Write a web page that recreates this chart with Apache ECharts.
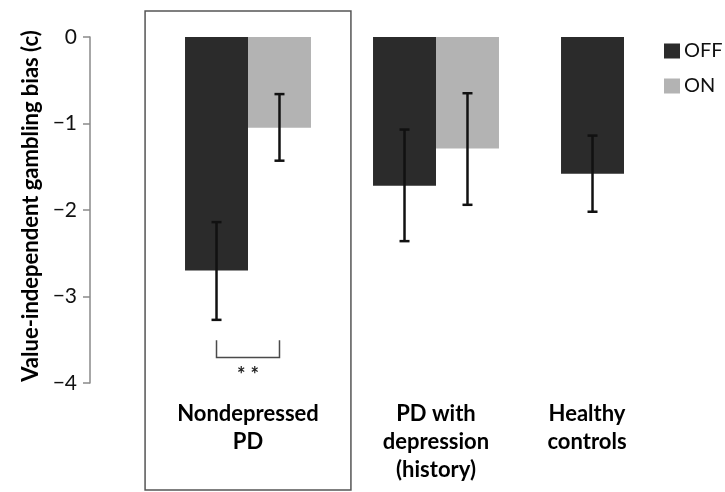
<!DOCTYPE html>
<html>
<head>
<meta charset="utf-8">
<script src="https://cdn.jsdelivr.net/npm/echarts@6/dist/echarts.min.js"></script>
<style>
html,body{margin:0;padding:0;background:#fff;}
#chart{width:725px;height:492px;}
</style>
</head>
<body>
<div id="chart"></div>
<script>
var categories = ['Nondepressed\nPD', 'PD with\ndepression\n(history)', 'Healthy\ncontrols'];
var seriesNames = ['OFF', 'ON'];
var offValues = [-2.70, -1.72, -1.58];
var onValues = [-1.05, -1.29, null];
var offErrLow = [-3.27, -2.36, -2.02];
var offErrHigh = [-2.14, -1.07, -1.14];
var onErrLow = [-1.43, -1.94, null];
var onErrHigh = [-0.66, -0.65, null];
var yTicks = [0, -1, -2, -3, -4];
var bracket = { category: 0, top: -3.505, bottom: -3.705, text: '* *', textAt: -3.88 };

var FONT = 'Lato';
var GAP = 0.33;

var errData = [];
for (var i = 0; i < categories.length; i++) {
  if (offErrLow[i] != null) errData.push([i, offErrLow[i], offErrHigh[i], 0]);
  if (onErrLow[i] != null) errData.push([i, onErrLow[i], onErrHigh[i], 1]);
}

function barOffset(api, s) {
  var band = api.size([1, 0])[0];
  var bw = band * (1 - GAP) / 2;
  return (s === 0 ? -1 : 1) * bw / 2;
}

var chart = echarts.init(document.getElementById('chart'), null, { renderer: 'canvas' });
chart.setOption({
  animation: false,
  backgroundColor: '#ffffff',
  grid: { left: 154, right: 7, top: 37, bottom: 109, containLabel: false },
  legend: {
    orient: 'vertical', left: 664, top: 41, padding: 0,
    itemWidth: 16, itemHeight: 15, itemGap: 15,
    icon: 'rect',
    data: seriesNames,
    textStyle: { fontFamily: FONT, fontSize: 20, color: '#111', padding: [0, 0, 0, -1] }
  },
  xAxis: {
    type: 'category',
    data: categories,
    axisLine: { show: false },
    axisTick: { show: false },
    axisLabel: {
      interval: 0,
      margin: 17,
      fontFamily: FONT, fontSize: 22, fontWeight: 'bold', color: '#000', lineHeight: 28,
      formatter: function (v, idx) {
        var style = idx === 2 ? 's' : 'n';
        return v.split('\n').map(function (t) { return '{' + style + '|' + t + '}'; }).join('\n');
      },
      rich: {
        n: { fontFamily: FONT, fontSize: 22, fontWeight: 'bold', color: '#000', lineHeight: 28 },
        s: { fontFamily: FONT, fontSize: 22, fontWeight: 'bold', color: '#000', lineHeight: 28, padding: [0, 74, 0, 0] }
      }
    },
    splitLine: { show: false }
  },
  yAxis: {
    type: 'value', min: -4, max: 0, interval: 1,
    offset: 64,
    name: 'Value-independent gambling bias (c)',
    nameLocation: 'middle', nameRotate: 90, nameGap: 42,
    nameTextStyle: { fontFamily: FONT, fontSize: 22, fontWeight: 'bold', color: '#000', padding: [0, 0, 0, 8] },
    axisLine: { show: true, lineStyle: { color: '#8a8a8a', width: 1.5 } },
    axisTick: { show: true, inside: false, length: 7, lineStyle: { color: '#8a8a8a', width: 1.5 } },
    axisLabel: {
      margin: 13, fontFamily: FONT, fontSize: 21, color: '#111',
      formatter: function (v) { return String(v).replace('-', '\u2212'); }
    },
    splitLine: { show: false }
  },
  series: [
    {
      name: 'OFF', type: 'bar', data: offValues, barGap: '0%', barCategoryGap: '33%',
      itemStyle: { color: '#2b2b2b' }
    },
    {
      name: 'ON', type: 'bar', data: onValues, barGap: '0%', barCategoryGap: '33%',
      itemStyle: { color: '#b3b3b3' }
    },
    {
      type: 'custom', name: 'errors', data: errData, z: 10, silent: true,
      encode: { x: 0, y: [1, 2] },
      renderItem: function (params, api) {
        var c = api.value(0), s = api.value(3);
        var off = barOffset(api, s);
        var lo = api.coord([c, api.value(1)]);
        var hi = api.coord([c, api.value(2)]);
        var x = lo[0] + off;
        var cap = 5;
        var st = { stroke: '#111', lineWidth: 2.5 };
        return {
          type: 'group',
          children: [
            { type: 'line', shape: { x1: x, y1: lo[1], x2: x, y2: hi[1] }, style: st },
            { type: 'line', shape: { x1: x - cap, y1: lo[1], x2: x + cap, y2: lo[1] }, style: st },
            { type: 'line', shape: { x1: x - cap, y1: hi[1], x2: x + cap, y2: hi[1] }, style: st }
          ]
        };
      }
    },
    {
      type: 'custom', name: 'annot', data: [[bracket.category, bracket.top, bracket.bottom, bracket.textAt]],
      z: 10, silent: true, clip: false,
      renderItem: function (params, api) {
        var c = api.value(0);
        var band = api.size([1, 0])[0];
        var xl = api.coord([c, 0])[0] + barOffset(api, 0);
        var xr = api.coord([c, 0])[0] + barOffset(api, 1);
        var yt = api.coord([c, api.value(1)])[1];
        var yb = api.coord([c, api.value(2)])[1];
        var yTxt = api.coord([c, api.value(3)])[1];
        var cx = api.coord([c, 0])[0];
        var y0 = api.coord([c, 0])[1];
        var y4 = api.coord([c, -4])[1];
        var bw = band * 1.095;
        var st = { stroke: '#4a4a4a', lineWidth: 1.5, fill: null };
        return {
          type: 'group',
          children: [
            { type: 'polyline', shape: { points: [[xl, yt], [xl, yb], [xr, yb], [xr, yt]] }, style: st },
            { type: 'text', style: { text: bracket.text, x: cx, y: yTxt + 3, align: 'center', verticalAlign: 'middle', font: 'bold 20px Lato', fill: '#222' } },
            { type: 'rect', shape: { x: cx - bw / 2, y: y0 - 26, width: bw, height: (y4 - y0) + 133 }, style: { stroke: '#555', lineWidth: 1.5, fill: null } }
          ]
        };
      }
    }
  ]
});
</script>
</body>
</html>
